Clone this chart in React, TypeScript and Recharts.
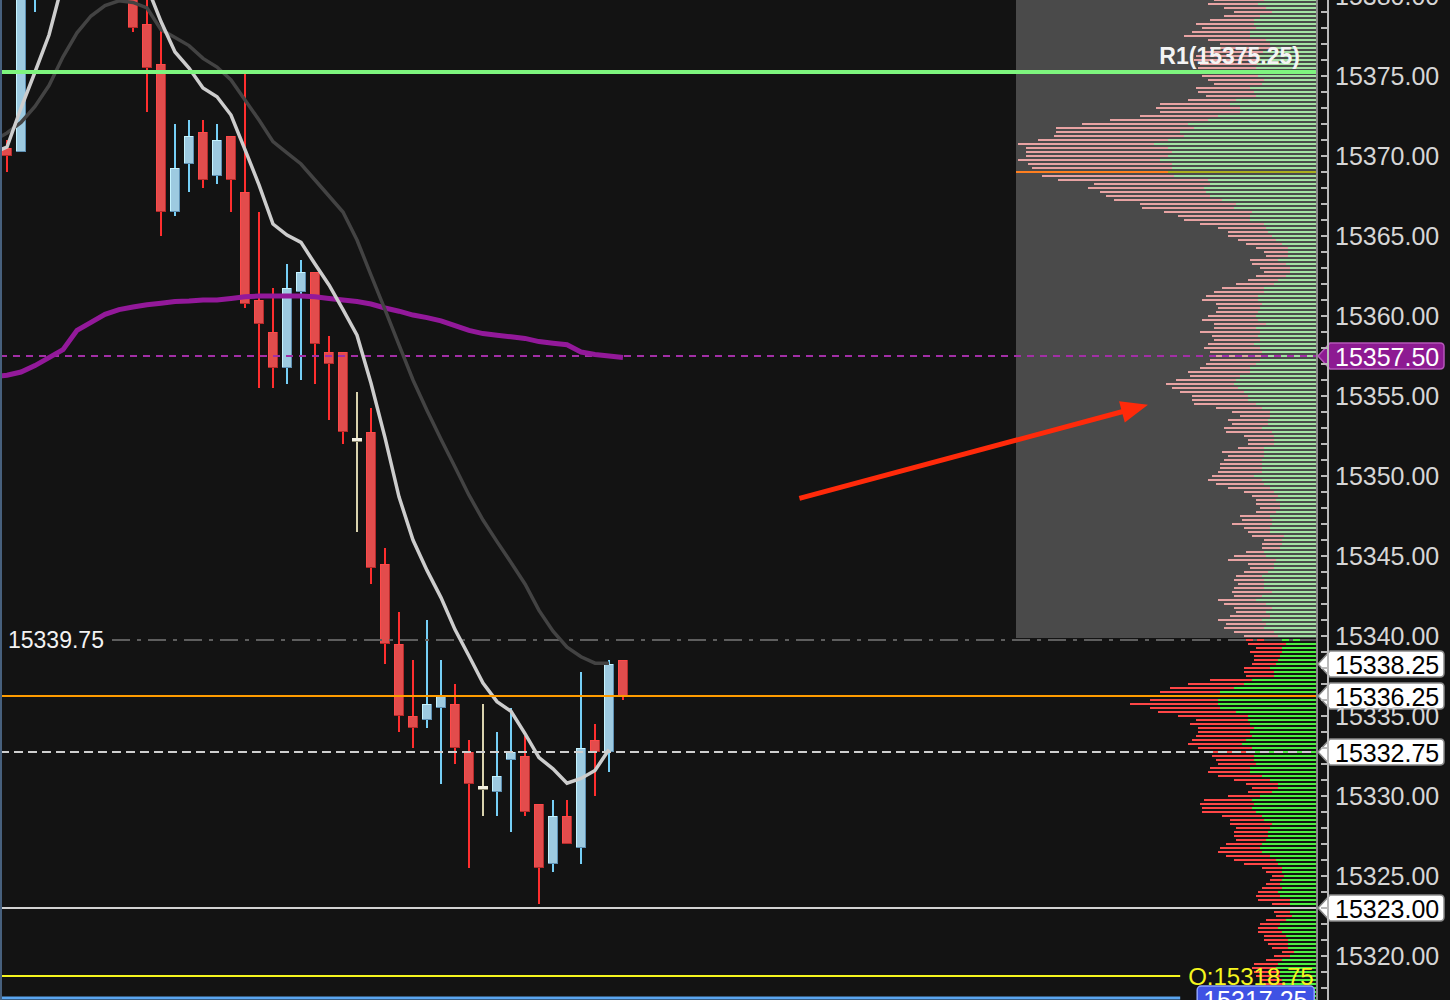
import React from "react";
import {
  Bar,
  BarChart,
  Cell,
  ComposedChart,
  Line,
  ReferenceArea,
  ReferenceLine,
  XAxis,
  YAxis,
} from "recharts";

// 1分足の下落場面 + 右側に出来高プロファイル。価格軸は右、0.25 刻み。

const FONT = '"Liberation Sans", Arial, sans-serif';
const Y_MIN = 15317.25;
const Y_MAX = 15379.75;

// slot -1 は画面左外（移動平均の描き出し用）、0..44 がローソク
const OPEN = [
  null, 15370.5, 15370.25, 15381, 15385, 15388, 15386.5, 15389, 15386, 15383, 15381.5,
  15378.25, 15375.75, 15366.5, 15369.5, 15371.5, 15368.75, 15371.25, 15367.75, 15361, 15359,
  15356.75, 15361.5, 15362.75, 15357.75, 15357.75, 15352.25, 15352.75, 15344.5, 15339.5, 15335,
  15334.75, 15335.5, 15335.75, 15332.75, 15330.5, 15330.25, 15332.25, 15332.5, 15329.5, 15325.75,
  15328.75, 15326.75, 15333.5, 15332.75, 15338.5,
];
const HIGH = [
  null, 15371, 15382, 15386, 15389, 15391, 15390, 15390.5, 15388, 15385, 15382.5,
  15380, 15378, 15372, 15372.25, 15372.25, 15372, 15371.25, 15375.25, 15366.5, 15361.75,
  15363.25, 15363.5, 15362.75, 15358.75, 15357.75, 15355.25, 15354.25, 15345.5, 15341.5, 15338.5,
  15341, 15338.5, 15337, 15333.5, 15335.75, 15334, 15335.5, 15333.75, 15329.5, 15329.75,
  15329.75, 15337.75, 15334.5, 15338.5, 15338.5,
];
const LOW = [
  null, 15369, 15370.25, 15379, 15383, 15385.5, 15384.5, 15385, 15382, 15380.5, 15377.75,
  15372.75, 15365, 15366.25, 15367.75, 15368, 15368.25, 15366.5, 15360.5, 15355.5, 15355.5,
  15355.75, 15356, 15355.75, 15353.5, 15352, 15346.5, 15343.25, 15338.25, 15334, 15333,
  15334.25, 15330.75, 15332, 15325.5, 15328.75, 15328.75, 15327.75, 15328.75, 15323.25, 15325.25,
  15327, 15325.75, 15330, 15331.5, 15336,
];
const CLOSE = [
  null, 15370, 15381.5, 15385, 15388, 15386.5, 15389, 15386, 15383, 15381.5, 15378,
  15375.5, 15366.5, 15369.25, 15371.25, 15368.5, 15371, 15368.5, 15360.75, 15359.5, 15356.75,
  15361.75, 15362.75, 15358.25, 15357, 15352.75, 15352.25, 15344.25, 15339.5, 15335, 15334.25,
  15335.75, 15336.25, 15333, 15330.75, 15330.5, 15331.25, 15332.75, 15329, 15325.5, 15328.75,
  15327, 15333, 15332.75, 15338.25, 15336.25,
];

// 移動平均（短期・中期・長期）
const FAST_MA = [
  15370.19, 15370.56, 15373, 15375.25, 15377.56, 15380.9, 15382, 15383, 15383.5, 15383.2, 15382.2,
  15380.6, 15378.4, 15376.5, 15375.5, 15374.25, 15373.7, 15372.56, 15370.4, 15368.2, 15365.75,
  15365.06, 15364.6, 15363.25, 15361.94, 15360.4, 15358.8, 15355.8, 15352.4, 15348.7, 15346,
  15344.1, 15342.4, 15340.4, 15338.75, 15337.06, 15335.9, 15335.3, 15333.9, 15332.4, 15331.7,
  15330.8, 15331.1, 15331.6, 15332.9, null,
];
const SLOW_MA = [
  15370.94, 15371.44, 15372.1, 15373.1, 15374.4, 15376.2, 15377.7, 15378.75, 15379.4, 15379.7, 15379.6,
  15379.25, 15377.9, 15377.4, 15376.9, 15376.1, 15375.56, 15374.75, 15373.5, 15372.25, 15370.9,
  15370.2, 15369.5, 15368.5, 15367.5, 15366.5, 15364.75, 15362.56, 15360.4, 15358.2, 15356,
  15354.1, 15352.3, 15350.56, 15348.8, 15347.25, 15345.9, 15344.6, 15343.25, 15341.6, 15340.3,
  15339.3, 15338.7, 15338.3, 15338.3, null,
];
const LONG_MA = [
  15356.19, 15356.3, 15356.5, 15356.9, 15357.4, 15357.9, 15359.1, 15359.6, 15360.1, 15360.4, 15360.56,
  15360.7, 15360.8, 15360.9, 15360.94, 15361, 15361, 15361.1, 15361.2, 15361.25, 15361.25,
  15361.25, 15361.25, 15361.2, 15361.1, 15361, 15360.9, 15360.75, 15360.5, 15360.3, 15360.06,
  15359.9, 15359.7, 15359.4, 15359.1, 15358.9, 15358.8, 15358.7, 15358.6, 15358.4, 15358.3,
  15358.2, 15357.75, 15357.6, 15357.5, 15357.4,
];

// 出来高プロファイル：15379.75 から 0.25 刻みで下へ（買い / 売り）
const PROFILE_TOP = 15379.75;
const PROFILE_STEP = 0.25;
const POC = 15369;
const PROFILE_BUY = [
  // 15379.75 - 15366.75
  52, 58, 50, 44, 56, 62, 62, 60, 66, 66, 50, 46, 43, 53, 58, 59, 59, 60, 58, 58,
  52, 54, 66, 62, 60, 80, 86, 76, 76, 98, 108, 128, 122, 136, 132, 148, 162, 148, 144, 148,
  156, 144, 144, 148, 142, 108, 106, 112, 110, 106, 94, 80, 82,
  // 15366.5 - 15353.75
  64, 66, 66, 52, 50, 48, 44, 40, 34, 28, 28, 28, 38, 30, 26, 26, 30, 38, 42, 52,
  52, 58, 58, 54, 56, 58, 60, 58, 50, 60, 56, 58, 56, 62, 56, 54, 54, 56, 60, 66,
  66, 76, 80, 82, 78, 72, 68, 68, 60, 54, 46, 46,
  // 15353.5 - 15340.5
  48, 48, 54, 44, 42, 42, 42, 52, 52, 52, 54, 54, 54, 54, 62, 54, 52, 46, 42, 38,
  40, 36, 36, 40, 46, 44, 44, 46, 46, 32, 34, 34, 36, 52, 50, 40, 42, 42, 48, 54,
  52, 52, 52, 44, 54, 60, 50, 44, 50, 46, 54, 50, 52,
  // 15340.25 - 15331.75
  42, 38, 36, 30, 34, 34, 36, 38, 40, 46, 42, 42, 64, 72, 82, 96, 96, 98, 98, 96,
  80, 68, 68, 66, 62, 66, 64, 70, 74, 64, 66, 62, 62, 60, 66,
  // 15331.5 - 15317.25
  66, 54, 46, 38, 38, 44, 56, 64, 62, 64, 60, 54, 52, 44, 46, 48, 48, 50, 54, 56,
  54, 46, 40, 38, 34, 34, 32, 34, 36, 34, 38, 36, 26, 26, 26, 26, 24, 30, 36, 38,
  34, 30, 28, 28, 28, 22, 26, 34, 38, 40, 36, 36, 34, 32, 30, 30, 28, 26,
];
const PROFILE_SELL = [
  // 15379.75 - 15366.75
  50, 50, 42, 38, 36, 44, 58, 54, 58, 66, 58, 50, 63, 58, 62, 63, 57, 58, 60, 56,
  56, 48, 54, 56, 50, 48, 70, 84, 80, 78, 98, 106, 138, 124, 130, 130, 136, 142, 146, 142,
  142, 144, 140, 152, 132, 150, 116, 116, 106, 104, 108, 96, 92,
  // 15366.5 - 15353.75
  88, 72, 66, 64, 48, 40, 44, 38, 36, 32, 24, 22, 28, 34, 30, 26, 30, 30, 38, 42,
  50, 52, 56, 46, 42, 42, 48, 56, 52, 42, 60, 46, 46, 46, 56, 52, 48, 50, 50, 50,
  62, 50, 60, 68, 66, 64, 56, 56, 62, 46, 38, 30,
  // 15353.5 - 15340.5
  40, 36, 38, 46, 30, 26, 26, 26, 42, 36, 38, 42, 42, 44, 42, 54, 48, 42, 30, 26,
  20, 24, 20, 20, 30, 30, 40, 26, 22, 32, 18, 20, 18, 18, 32, 48, 26, 24, 24, 26,
  30, 26, 30, 40, 28, 38, 42, 38, 30, 40, 44, 40, 40,
  // 15340.25 - 15331.75
  40, 34, 42, 38, 26, 32, 26, 24, 24, 26, 30, 28, 42, 56, 64, 60, 74, 68, 88, 70,
  78, 70, 52, 60, 56, 52, 56, 54, 54, 54, 40, 42, 38, 38, 40,
  // 15331.5 - 15317.25
  42, 44, 36, 32, 26, 24, 32, 48, 54, 50, 54, 40, 34, 42, 34, 34, 34, 30, 36, 40,
  44, 44, 42, 34, 20, 16, 12, 12, 14, 20, 20, 24, 32, 18, 18, 16, 16, 20, 20, 20,
  24, 22, 24, 20, 16, 12, 16, 16, 24, 24, 26, 24, 22, 20, 22, 20, 18, 16,
];
const PROFILE_SPLIT = 15340; // これより上は前日分（淡色）

// 水平ライン
const R1 = 15375.25;
const VWAP = 15357.5;
const PREV_CLOSE = 15339.75;
const LAST = 15336.25;
const HIGH_TAG = 15338.25;
const MID_LINE = 15332.75;
const LOW_LINE = 15323;
const OPEN_LINE = 15318.75;
const BLUE_LINE = 15317.25;

const data = OPEN.map((o, i) => ({
  slot: i - 1,
  open: o,
  close: CLOSE[i],
  range: o == null ? null : [LOW[i], HIGH[i]],
  fast: FAST_MA[i],
  slow: SLOW_MA[i],
  long: LONG_MA[i],
}));

const profileData = PROFILE_BUY.map((buy, i) => ({
  price: PROFILE_TOP - i * PROFILE_STEP,
  buy,
  sell: PROFILE_SELL[i],
}));

const AXIS_TICKS = Array.from({ length: 63 }, (_, i) => 15318 + i);

// x 方向：1スロット 14px、プロファイル右端 = 93.5、O: ラベル手前 = 83.8
const X_DOMAIN: [number, number] = [-0.5, 94.357];
const X_LEFT = -0.5;
const X_EDGE = 93.5;
const X_SHORT = 83.8;

function CandleShape(props: any) {
  const { x, y, width, height, payload } = props;
  if (!payload || !payload.range) return null;
  const [lo, hi] = payload.range;
  const { open, close } = payload;
  const py = (v: number) => y + ((hi - v) / (hi - lo)) * height;
  const cx = Math.round(x + width / 2);
  const flat = open === close;
  const up = close > open;
  const wick = flat ? "#d9d3ae" : up ? "#76cff6" : "#ff2e2e";
  const top = Math.round(py(Math.max(open, close)));
  const bot = Math.round(py(Math.min(open, close)));
  const h = Math.max(bot - top, 2);
  const bx = cx - 5;
  return (
    <g>
      <line x1={cx} x2={cx} y1={py(hi)} y2={py(lo)} stroke={wick} strokeWidth={2} />
      {flat ? (
        <g>
          <rect x={bx} y={top - 2} width={10} height={3} fill="#f3f0e2" />
          <rect x={bx} y={top + 1} width={10} height={1} fill="#8b8770" />
        </g>
      ) : up ? (
        <g>
          <rect x={bx} y={top} width={10} height={h} fill="#9dcae0" />
          <rect x={bx} y={top} width={10} height={1} fill="#c6f4ff" />
          <rect x={bx} y={top} width={1} height={h} fill="#c6f4ff" />
          <rect x={bx + 9} y={top} width={1} height={h} fill="#5d8fb2" />
          <rect x={bx} y={top + h - 1} width={10} height={1} fill="#5d8fb2" />
        </g>
      ) : (
        <g>
          <rect x={bx} y={top} width={10} height={h} fill="#e24c4c" />
          <rect x={bx} y={top} width={10} height={1} fill="#ff4a4a" />
          <rect x={bx} y={top} width={1} height={h} fill="#ff4a4a" />
          <rect x={bx + 9} y={top} width={1} height={h} fill="#b52a2a" />
          <rect x={bx} y={top + h - 1} width={10} height={1} fill="#b52a2a" />
        </g>
      )}
    </g>
  );
}

function PriceTick(props: any) {
  const { x, y, payload } = props;
  const v = payload.value as number;
  return (
    <g>
      <line x1={x - 7} x2={x} y1={y} y2={y} stroke="#b9b9b9" strokeWidth={2} />
      {v % 5 === 0 && (
        <text x={x + 7} y={y} dominantBaseline="central" fill="#d6d6d6" fontSize={25} fontFamily={FONT}>
          {v.toFixed(2)}
        </text>
      )}
    </g>
  );
}

// 右軸に寄せた価格タグ（左向きの矢じり付き）
function tagShape(text: string, fill: string, color: string, border: string) {
  return (p: any) => {
    const y = p.y1;
    const ax = Math.max(p.x1, p.x2);
    const tip = ax - 10;
    const l = ax + 2;
    const r = ax + 116;
    const h = 13;
    const d = `M${tip},${y} L${l},${y - h} L${r - 4},${y - h} Q${r},${y - h} ${r},${y - h + 4} L${r},${y + h - 4} Q${r},${y + h} ${r - 4},${y + h} L${l},${y + h} Z`;
    return (
      <g>
        <path d={d} fill={fill} stroke={border} strokeWidth={1.5} />
        <text x={ax + 7} y={y + 1} dominantBaseline="central" fill={color} fontSize={25} fontFamily={FONT}>
          {text}
        </text>
      </g>
    );
  };
}

function ArrowShape(p: any) {
  const { x1, y1, x2, y2 } = p;
  const dx = x2 - x1;
  const dy = y2 - y1;
  const len = Math.hypot(dx, dy);
  const ux = dx / len;
  const uy = dy / len;
  const hl = 27;
  const hw = 11;
  const bx = x2 - ux * hl;
  const by = y2 - uy * hl;
  return (
    <g>
      <line x1={x1} y1={y1} x2={bx + ux * 2} y2={by + uy * 2} stroke="#ff2a0a" strokeWidth={5} />
      <polygon
        points={`${x2},${y2} ${bx - uy * hw},${by + ux * hw} ${bx + uy * hw},${by - ux * hw}`}
        fill="#ff2a0a"
      />
    </g>
  );
}

function rowColors(price: number): [string, string] {
  if (price === POC) return ["#a9b01e", "#ff7f20"];
  if (price >= PROFILE_SPLIT) return ["#a3e2a3", "#e8a3a3"];
  return ["#4cf040", "#ff4646"];
}

function VolumeProfile() {
  return (
    <BarChart
      layout="vertical"
      width={300}
      height={1000}
      data={profileData}
      margin={{ top: 0, right: 0, bottom: 0, left: 0 }}
    >
      <XAxis type="number" domain={[0, 300]} reversed hide allowDataOverflow />
      <YAxis type="number" dataKey="price" domain={[Y_MIN, Y_MAX]} reversed hide allowDataOverflow />
      <ReferenceArea y1={PROFILE_SPLIT - 0.125} y2={Y_MAX} fill="#4a4a4a" fillOpacity={1} stroke="none" />
      <Bar dataKey="buy" stackId="v" barSize={2} isAnimationActive={false}>
        {profileData.map((r) => (
          <Cell key={`b${r.price}`} fill={rowColors(r.price)[0]} />
        ))}
      </Bar>
      <Bar dataKey="sell" stackId="v" barSize={2} isAnimationActive={false}>
        {profileData.map((r) => (
          <Cell key={`s${r.price}`} fill={rowColors(r.price)[1]} />
        ))}
      </Bar>
    </BarChart>
  );
}

export default function App() {
  return (
    <div
      style={{
        position: "fixed",
        left: 0,
        top: 0,
        width: 1450,
        height: 1000,
        background: "#131313",
        overflow: "hidden",
      }}
    >
      <div style={{ position: "absolute", left: 1016, top: 0 }}>
        <VolumeProfile />
      </div>
      <div style={{ position: "absolute", left: 0, top: 0 }}>
        <ComposedChart width={1450} height={1000} data={data} margin={{ top: 0, right: 0, bottom: 0, left: 0 }}>
          <XAxis type="number" dataKey="slot" domain={X_DOMAIN} hide allowDataOverflow />
          <YAxis
            orientation="right"
            type="number"
            domain={[Y_MIN, Y_MAX]}
            ticks={AXIS_TICKS}
            interval={0}
            width={122}
            allowDataOverflow
            tickSize={0}
            tickMargin={0}
            tickLine={false}
            axisLine={{ stroke: "#b9b9b9", strokeWidth: 2 }}
            tick={(p: any) => <PriceTick {...p} />}
          />

          {/* 水平ライン */}
          <ReferenceLine
            segment={[{ x: X_LEFT, y: VWAP }, { x: X_EDGE, y: VWAP }]}
            stroke="#a22fa6"
            strokeWidth={2}
            strokeDasharray="7 6"
          />
          <ReferenceLine
            segment={[{ x: X_LEFT, y: PREV_CLOSE }, { x: X_EDGE, y: PREV_CLOSE }]}
            shape={(p: any) => (
              <g>
                <line x1={p.x1 + 112} y1={p.y1} x2={p.x2} y2={p.y2} stroke="#5e5e5e" strokeWidth={2} strokeDasharray="18 7 4 7" />
                <text x={p.x1 + 8} y={p.y1} dominantBaseline="central" fill="#f2f2f2" fontSize={23} fontFamily={FONT}>
                  {PREV_CLOSE.toFixed(2)}
                </text>
              </g>
            )}
          />
          <ReferenceLine
            segment={[{ x: X_LEFT, y: LOW_LINE }, { x: X_EDGE, y: LOW_LINE }]}
            stroke="#d2d2d2"
            strokeWidth={2}
          />
          <ReferenceLine
            segment={[{ x: X_LEFT, y: MID_LINE }, { x: X_EDGE, y: MID_LINE }]}
            stroke="#cfcfcf"
            strokeWidth={2}
            strokeDasharray="9 5"
          />
          <ReferenceLine
            segment={[{ x: X_LEFT, y: OPEN_LINE }, { x: X_SHORT, y: OPEN_LINE }]}
            shape={(p: any) => (
              <g>
                <line x1={p.x1} y1={p.y1} x2={p.x2} y2={p.y2} stroke="#f5f51e" strokeWidth={2} />
                <text x={p.x2 + 8} y={p.y1} dominantBaseline="central" fill="#f5f51e" fontSize={24} fontFamily={FONT}>
                  {`O:${OPEN_LINE.toFixed(2)}`}
                </text>
              </g>
            )}
          />
          <ReferenceLine
            segment={[{ x: X_LEFT, y: BLUE_LINE }, { x: X_SHORT, y: BLUE_LINE }]}
            shape={(p: any) => (
              <g>
                <line x1={p.x1} y1={p.y1 - 2} x2={p.x2} y2={p.y2 - 2} stroke="#5aa5f0" strokeWidth={3} />
                <rect x={p.x2 + 17} y={p.y1 - 14} width={117} height={28} rx={4} fill="#3f52e4" stroke="#8fa4ff" strokeWidth={1.5} />
                <text x={p.x2 + 23} y={p.y1} dominantBaseline="central" fill="#ffffff" fontSize={25} fontFamily={FONT}>
                  {BLUE_LINE.toFixed(2)}
                </text>
              </g>
            )}
          />

          {/* ローソク足と移動平均 */}
          <Bar dataKey="range" barSize={10} isAnimationActive={false} shape={(p: any) => <CandleShape {...p} />} />
          <Line type="linear" dataKey="long" stroke="#93199a" strokeWidth={5} dot={false} activeDot={false} isAnimationActive={false} />
          <Line type="linear" dataKey="slow" stroke="#434343" strokeWidth={3.5} dot={false} activeDot={false} isAnimationActive={false} />
          <Line type="linear" dataKey="fast" stroke="#cdcdcd" strokeWidth={3.5} dot={false} activeDot={false} isAnimationActive={false} />

          <ReferenceLine
            segment={[{ x: X_LEFT, y: LAST }, { x: X_EDGE, y: LAST }]}
            stroke="#ff9c00"
            strokeWidth={2}
          />
          <ReferenceLine
            segment={[{ x: X_LEFT, y: R1 }, { x: X_EDGE, y: R1 }]}
            shape={(p: any) => (
              <g>
                <line x1={p.x1} y1={p.y1} x2={p.x2} y2={p.y2} stroke="#7ef57e" strokeWidth={4} />
                <text x={p.x2 - 16} y={p.y1 - 8} textAnchor="end" fill="#f4f4f4" fontSize={23} fontWeight="bold" fontFamily={FONT}>
                  {`R1(${R1.toFixed(2)})`}
                </text>
              </g>
            )}
          />

          {/* 矢印 */}
          <ReferenceLine
            segment={[{ x: 56.6, y: 15348.6 }, { x: 81.5, y: 15354.45 }]}
            shape={(p: any) => <ArrowShape {...p} />}
          />

          {/* 枠 */}
          <ReferenceLine x={X_LEFT} stroke="#47607d" strokeWidth={4} />
          <ReferenceLine x={93.57} stroke="#8c8c8c" strokeWidth={2} />

          {/* 価格タグ */}
          <ReferenceLine y={VWAP} shape={tagShape(VWAP.toFixed(2), "#8d1a92", "#ffffff", "#b457b8")} />
          <ReferenceLine y={HIGH_TAG} shape={tagShape(HIGH_TAG.toFixed(2), "#ffffff", "#000000", "#8a8a8a")} />
          <ReferenceLine y={LAST} shape={tagShape(LAST.toFixed(2), "#ffffff", "#000000", "#8a8a8a")} />
          <ReferenceLine y={MID_LINE} shape={tagShape(MID_LINE.toFixed(2), "#ffffff", "#000000", "#8a8a8a")} />
          <ReferenceLine y={LOW_LINE} shape={tagShape(LOW_LINE.toFixed(2), "#ffffff", "#000000", "#8a8a8a")} />
        </ComposedChart>
      </div>
    </div>
  );
}
